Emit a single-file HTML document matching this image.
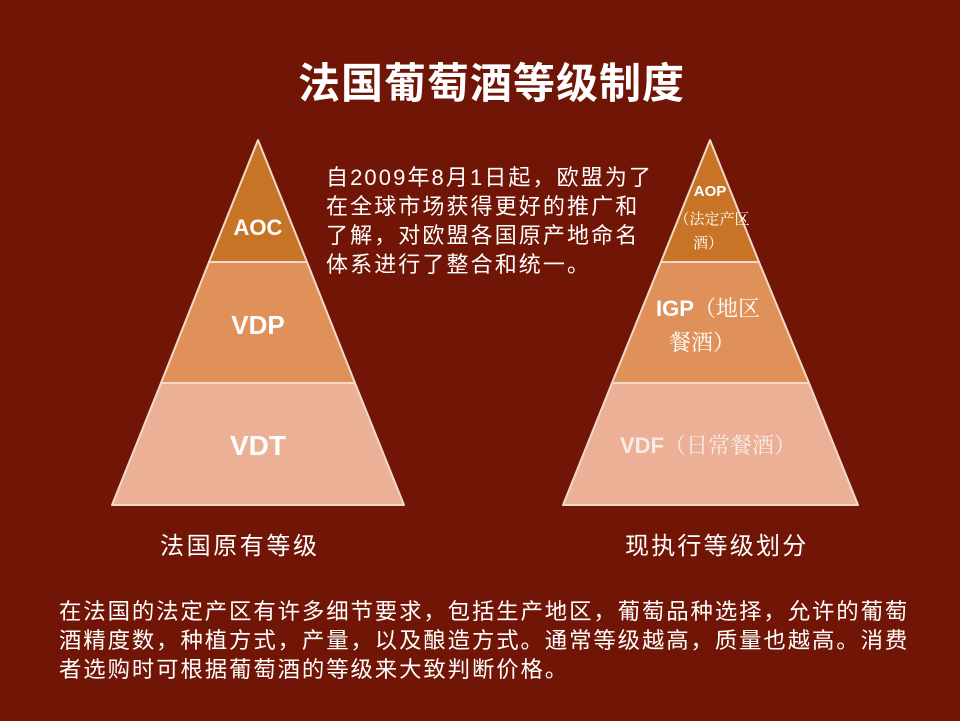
<!DOCTYPE html>
<html><head><meta charset="utf-8"><style>
body{margin:0;width:960px;height:721px;background:#711506;overflow:hidden;position:relative;font-family:"Liberation Sans","Noto Sans CJK SC",sans-serif;color:#fff}
.t{position:absolute;white-space:nowrap}
</style></head><body>
<svg width="960" height="721" style="position:absolute;left:0;top:0">
<g stroke="#f3d9c8" stroke-width="2" stroke-linejoin="round">
<polygon points="258,140 209,262 307,262" fill="#c87427"/>
<polygon points="209,262 307,262 355,383 161,383" fill="#e0915a"/>
<polygon points="161,383 355,383 404,505 112,505" fill="#ecb097"/>
<polygon points="710,140 661,262 759,262" fill="#c87427"/>
<polygon points="661,262 759,262 809,383 612,383" fill="#e0915a"/>
<polygon points="612,383 809,383 858,505 563,505" fill="#ecb097"/>
</g>
<g fill="#fff" font-family="Liberation Sans, Noto Sans CJK SC, sans-serif" font-weight="bold" text-anchor="middle">
<text x="258" y="235" font-size="22">AOC</text>
<text x="258" y="334" font-size="26">VDP</text>
<text x="258" y="455" font-size="28">VDT</text>
<text x="710" y="196" font-size="15">AOP</text>
</g>
<g fill="#fff" font-family="Liberation Serif, Noto Serif CJK SC, serif" text-anchor="middle">
<text x="712" y="224" font-size="15">（法定产区</text>
<text x="708" y="248" font-size="15">酒）</text>
<text x="708" y="316" font-size="22"><tspan font-family="Liberation Sans" font-weight="bold">IGP</tspan>（地区</text>
<text x="702" y="350" font-size="22">餐酒）</text>
<text x="708" y="453" font-size="22" fill="#f7ebe5"><tspan font-family="Liberation Sans" font-weight="bold">VDF</tspan>（日常餐酒）</text>
</g>
</svg>
<div class="t" style="left:298px;top:50px;font-size:42px;font-weight:bold;letter-spacing:1px">法国葡萄酒等级制度</div>
<div class="t" style="left:326px;top:163px;font-size:22px;line-height:29px;letter-spacing:2.1px">自2009年8月1日起，欧盟为了<br>在全球市场获得更好的推广和<br>了解，对欧盟各国原产地命名<br>体系进行了整合和统一。</div>
<div class="t" style="left:160px;top:526px;font-size:24px;letter-spacing:2.6px">法国原有等级</div>
<div class="t" style="left:625px;top:526px;font-size:24px;letter-spacing:2.2px">现执行等级划分</div>
<div class="t" style="left:59px;top:597px;font-size:22.4px;line-height:29px;letter-spacing:1.9px">在法国的法定产区有许多细节要求，包括生产地区，葡萄品种选择，允许的葡萄<br>酒精度数，种植方式，产量，以及酿造方式。通常等级越高，质量也越高。消费<br>者选购时可根据葡萄酒的等级来大致判断价格。</div>
</body></html>
